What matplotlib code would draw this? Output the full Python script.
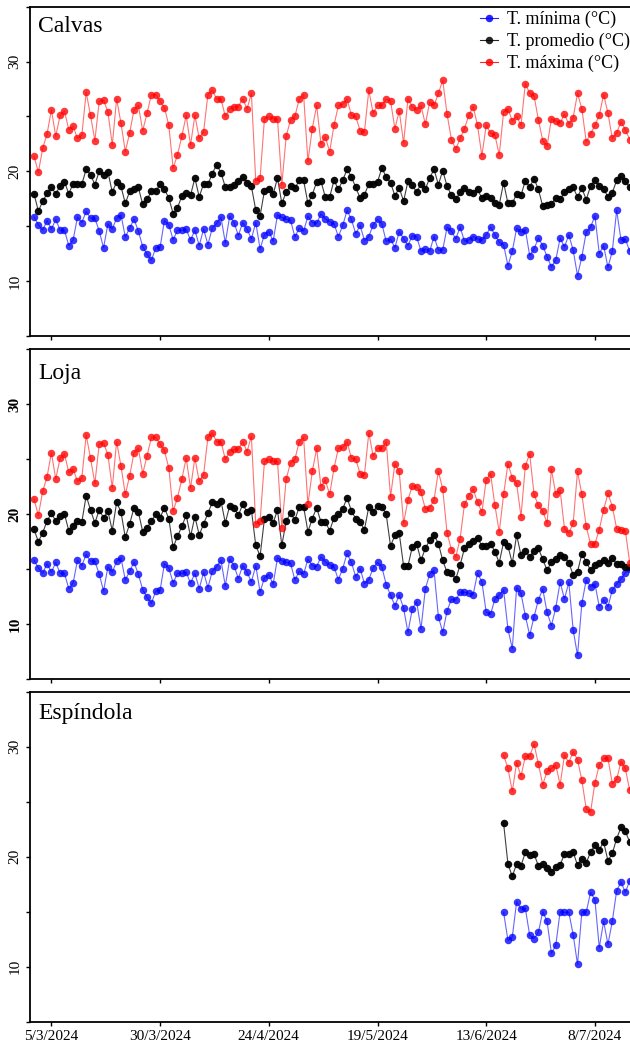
import matplotlib
matplotlib.use("Agg")
import matplotlib.pyplot as plt
from matplotlib.ticker import FixedLocator
import matplotlib.dates as mdates
from matplotlib.lines import Line2D
import datetime as dt

plt.rcParams['font.family'] = ['Liberation Serif', 'DejaVu Serif']

# ---------------- data ----------------
start_date = "1/3/2024"
esp_start_date = "17/6/2024"
tick_labels = ["5/3/2024", "30/3/2024", "24/4/2024", "19/5/2024", "13/6/2024", "8/7/2024"]
stations = ["Calvas", "Loja", "Espíndola"]
series_labels = ["T. mínima (°C)", "T. promedio (°C)", "T. máxima (°C)"]

calvas_max = [21.4, 19.9, 22.1, 23.4, 25.6, 23.2, 25.1, 25.5, 23.8, 24.1,
              23.0, 23.3, 27.2, 25.1, 22.8, 26.4, 26.5, 25.4, 22.4, 26.6,
              24.4, 21.8, 23.5, 25.6, 26.0, 23.7, 25.3, 27.0, 27.0, 26.4,
              25.8, 24.2, 20.3, 21.5, 23.2, 25.1, 22.4, 25.1, 23.0, 23.6,
              27.0, 27.4, 26.6, 26.6, 25.0, 25.7, 25.9, 25.9, 26.6, 25.7,
              27.1, 19.1, 19.4, 24.8, 25.0, 24.8, 24.8, 18.8, 23.2, 24.7,
              25.0, 26.6, 27.0, 20.9, 23.9, 26.0, 22.5, 23.1, 21.8, 24.2,
              26.0, 26.1, 26.6, 25.1, 25.0, 23.7, 23.6, 27.4, 25.3, 26.0,
              26.0, 26.6, 26.4, 23.9, 25.5, 22.6, 26.6, 25.9, 25.6, 26.0,
              24.3, 26.3, 26.0, 27.1, 28.3, 25.2, 22.9, 22.0, 23.0, 23.9,
              25.1, 25.9, 24.2, 21.4, 24.2, 23.5, 23.3, 21.5, 25.4, 25.7,
              24.6, 25.0, 24.2, 28.0, 27.1, 26.9, 24.7, 22.8, 22.3, 24.8,
              24.6, 24.4, 25.2, 24.3, 24.9, 27.1, 25.7, 22.7, 23.4, 24.2,
              25.1, 27.0, 25.3, 23.0, 23.5, 24.5, 23.8, 22.9]
calvas_mean = [17.96, 16.38, 17.26, 17.99, 18.54, 17.96, 18.66, 19.06, 17.96, 18.88,
               18.88, 18.82, 20.19, 19.70, 18.79, 20.00, 19.70, 19.94, 18.11, 19.03,
               18.63, 17.08, 18.17, 18.42, 18.54, 16.99, 17.47, 18.17, 18.17, 18.82,
               18.39, 17.56, 16.16, 16.68, 17.75, 17.99, 17.81, 19.39, 17.66, 18.88,
               18.82, 19.79, 20.61, 19.88, 18.57, 18.57, 18.72, 19.09, 19.49, 18.94,
               18.63, 16.47, 15.95, 18.24, 18.42, 17.90, 19.39, 17.08, 18.11, 18.69,
               18.45, 19.18, 19.18, 17.08, 17.87, 19.03, 19.09, 17.66, 17.66, 19.18,
               18.36, 19.18, 20.19, 19.49, 18.54, 17.56, 17.87, 18.85, 18.85, 19.03,
               20.31, 19.49, 18.97, 17.78, 18.48, 17.29, 19.09, 18.72, 18.11, 18.85,
               18.39, 19.39, 20.19, 18.79, 20.06, 18.66, 17.81, 17.44, 18.08, 18.48,
               18.11, 17.99, 18.36, 17.56, 17.75, 17.56, 17.14, 16.96, 18.97, 17.08,
               17.08, 17.96, 17.81, 19.15, 18.57, 19.33, 18.36, 16.83, 16.96, 17.02,
               17.56, 17.44, 18.11, 18.42, 18.54, 17.66, 18.48, 17.41, 18.66, 19.18,
               18.66, 18.42, 17.66, 18.05, 19.18, 19.55, 19.09, 18.54]
calvas_min = [15.83, 15.13, 14.64, 15.52, 14.73, 15.62, 14.64, 14.64, 13.24, 13.76,
              15.83, 15.34, 16.35, 15.74, 15.74, 14.55, 13.03, 15.22, 14.73, 15.74,
              16.04, 14.03, 14.82, 15.65, 14.55, 13.15, 12.45, 11.90, 13.03, 13.09,
              15.52, 15.13, 13.76, 14.64, 14.64, 14.73, 13.73, 14.64, 13.24, 14.73,
              13.33, 14.82, 15.25, 15.83, 13.48, 15.92, 15.34, 14.15, 15.34, 14.73,
              13.85, 15.34, 12.93, 14.24, 14.52, 13.64, 16.04, 15.80, 15.62, 15.55,
              14.03, 14.82, 14.55, 15.92, 15.34, 15.25, 16.13, 15.67, 15.43, 15.22,
              14.06, 15.07, 16.44, 15.62, 14.31, 15.07, 13.70, 14.06, 15.13, 15.62,
              15.22, 13.61, 13.85, 13.03, 14.52, 13.85, 13.24, 14.15, 14.06, 12.72,
              12.93, 12.72, 14.06, 12.84, 12.84, 14.91, 14.55, 13.85, 14.91, 13.64,
              13.76, 14.06, 13.85, 13.73, 14.21, 14.91, 14.21, 13.54, 13.30, 11.41,
              12.72, 14.82, 14.46, 14.70, 12.32, 12.93, 13.91, 13.24, 12.23, 11.29,
              11.93, 13.91, 13.12, 14.21, 12.81, 10.50, 12.23, 14.46, 14.91, 15.95,
              12.51, 13.24, 11.26, 12.72, 16.44, 13.76, 13.85, 12.72]

loja_max = [21.4, 19.9, 22.1, 23.4, 25.6, 23.2, 25.1, 25.5, 23.8, 24.1,
            23.0, 23.3, 27.2, 25.1, 22.8, 26.4, 26.5, 25.4, 22.4, 26.6,
            24.4, 21.8, 23.5, 25.6, 26.0, 23.7, 25.3, 27.0, 27.0, 26.4,
            25.8, 24.2, 20.3, 21.5, 23.2, 25.1, 22.4, 25.1, 23.0, 23.6,
            27.0, 27.4, 26.6, 26.6, 25.0, 25.7, 25.9, 25.9, 26.6, 25.7,
            27.1, 19.1, 19.4, 24.8, 25.0, 24.8, 24.8, 18.8, 23.2, 24.7,
            25.0, 26.6, 27.0, 20.9, 23.9, 26.0, 22.5, 23.1, 21.8, 24.2,
            26.0, 26.1, 26.6, 25.1, 25.0, 23.7, 23.6, 27.4, 25.3, 26.0,
            26.0, 26.6, 21.6, 24.6, 23.9, 19.2, 21.3, 22.6, 22.5, 22.0,
            20.5, 20.6, 21.3, 23.9, 22.3, 18.3, 16.8, 16.1, 17.8, 20.9,
            21.7, 22.3, 21.1, 20.2, 23.1, 23.7, 20.8, 18.4, 21.8, 24.6,
            23.3, 22.8, 19.8, 24.4, 25.5, 21.8, 20.8, 20.3, 19.2, 24.1,
            21.8, 22.2, 18.7, 18.3, 19.2, 23.9, 21.8, 18.9, 17.3, 17.3,
            18.6, 20.4, 21.9, 20.7, 18.7, 18.6, 18.5, 15.6]
loja_mean = [18.63, 17.51, 18.33, 19.39, 20.09, 19.39, 19.85, 20.03, 18.51, 18.94,
             19.39, 19.30, 21.70, 20.39, 19.21, 20.39, 19.69, 20.30, 18.51, 21.09,
             20.21, 17.91, 19.12, 20.60, 20.21, 18.42, 18.78, 19.39, 19.99, 19.69,
             20.60, 19.60, 16.99, 17.99, 18.91, 19.91, 17.99, 19.79, 18.12, 19.12,
             20.09, 21.09, 20.91, 21.21, 19.21, 20.78, 20.60, 19.91, 20.91, 20.21,
             20.39, 17.18, 16.21, 19.60, 19.79, 19.21, 20.39, 17.18, 19.39, 20.09,
             19.48, 20.69, 20.69, 18.42, 19.60, 20.60, 19.30, 19.33, 18.51, 19.69,
             20.00, 20.48, 21.51, 20.30, 19.60, 19.30, 18.60, 20.69, 20.24, 20.78,
             20.69, 20.00, 17.12, 18.09, 18.27, 15.30, 15.30, 17.03, 17.33, 15.81,
             16.91, 17.63, 18.12, 17.33, 15.81, 14.72, 14.63, 14.12, 15.39, 16.91,
             17.33, 17.57, 17.88, 17.12, 17.12, 17.33, 16.60, 15.60, 17.48, 17.12,
             15.54, 18.12, 16.30, 16.70, 16.12, 16.70, 16.91, 15.91, 14.91, 15.69,
             15.91, 16.30, 16.12, 15.60, 14.48, 14.78, 16.42, 15.69, 14.91, 15.39,
             15.60, 15.81, 15.60, 16.00, 15.48, 15.48, 15.18, 15.20]
loja_min = [15.83, 15.13, 14.64, 15.52, 14.73, 15.62, 14.64, 14.64, 13.24, 13.76,
            15.83, 15.34, 16.35, 15.74, 15.74, 14.55, 13.03, 15.22, 14.73, 15.74,
            16.04, 14.03, 14.82, 15.65, 14.55, 13.15, 12.45, 11.90, 13.03, 13.09,
            15.52, 15.13, 13.76, 14.64, 14.64, 14.73, 13.73, 14.64, 13.24, 14.73,
            13.33, 14.82, 15.25, 15.83, 13.48, 15.92, 15.34, 14.15, 15.34, 14.73,
            13.85, 15.34, 12.93, 14.24, 14.52, 13.64, 16.04, 15.80, 15.62, 15.55,
            14.03, 14.82, 14.55, 15.92, 15.34, 15.25, 16.13, 15.67, 15.43, 15.22,
            14.06, 15.07, 16.44, 15.62, 14.31, 15.07, 13.70, 14.06, 15.13, 15.62,
            15.22, 13.61, 12.66, 11.69, 12.66, 11.45, 9.27, 11.39, 12.06, 9.57,
            13.21, 14.57, 14.91, 10.69, 9.27, 11.21, 12.30, 12.21, 12.91, 12.91,
            12.82, 12.70, 14.63, 13.88, 11.09, 10.91, 12.30, 12.66, 13.12, 9.57,
            7.78, 13.33, 12.82, 10.78, 9.00, 10.69, 12.21, 13.21, 11.09, 9.88,
            11.51, 13.82, 12.30, 13.82, 9.48, 7.18, 11.91, 14.03, 13.42, 13.70,
            11.60, 12.21, 11.60, 13.12, 13.67, 14.12, 14.69, 15.00]

esp_max = [29.24, 28.03, 25.94, 28.55, 27.33, 29.12, 29.12, 30.24, 28.45, 26.55,
           27.76, 28.03, 28.33, 26.55, 29.24, 28.55, 29.55, 28.82, 26.94, 24.36,
           24.06, 26.73, 28.33, 28.94, 28.94, 26.64, 27.03, 28.64, 28.03, 26.03]
esp_mean = [23.03, 19.33, 18.21, 19.36, 19.18, 20.39, 20.18, 20.24, 19.18, 19.33,
            18.97, 18.61, 19.06, 19.27, 20.24, 20.27, 20.43, 19.21, 19.82, 19.43,
            20.43, 21.03, 20.64, 21.33, 19.64, 20.30, 21.64, 22.67, 22.30, 21.33]
esp_min = [14.94, 12.40, 12.70, 15.91, 15.24, 15.30, 12.85, 12.55, 13.12, 15.00,
           14.12, 11.21, 11.94, 15.00, 14.94, 14.94, 12.91, 10.21, 15.00, 14.94,
           16.76, 16.09, 11.73, 14.12, 12.03, 14.12, 16.91, 17.70, 16.76, 17.82]

# ---------------- helpers ----------------
def parse(s):
    return dt.datetime.strptime(s, "%d/%m/%Y")

def dates_from(start, n):
    d0 = parse(start)
    return [d0 + dt.timedelta(days=i) for i in range(n)]

W, H = 630, 1045
fig = plt.figure(figsize=(W / 100, H / 100), dpi=100)

def rect(top, bottom):
    return [30 / W, 1 - bottom / H, 601 / W, (bottom - top) / H]

panel_rects = [rect(6.7, 336.0), rect(349.3, 679.3), rect(691.7, 1021.7)]
title_y = [27, 374, 713]
panel_data = [
    (start_date, calvas_min, calvas_mean, calvas_max),
    (start_date, loja_min, loja_mean, loja_max),
    (esp_start_date, esp_min, esp_mean, esp_max),
]
colors = ["#0000ff", "#000000", "#ff0000"]
marker_alpha = [0.78, 0.95, 0.78]
line_alpha = [0.6, 0.75, 0.55]

d0 = parse(start_date)
xlim = (mdates.date2num(d0) - 0.92, mdates.date2num(d0) + 137.3)
tick_pos = [mdates.date2num(parse(s)) for s in tick_labels]

axes = []
for i, (r, (sd, tmin, tmean, tmax)) in enumerate(zip(panel_rects, panel_data)):
    ax = fig.add_axes(r)
    axes.append(ax)
    for vals, c, ma, la in zip([tmin, tmean, tmax], colors, marker_alpha, line_alpha):
        x = mdates.date2num(dates_from(sd, len(vals)))
        ax.plot(x, vals, '-', color=c, lw=0.8, alpha=la, zorder=2)
        ax.plot(x, vals, 'o', color=c, ms=5.4, mew=0, alpha=ma, zorder=3)
    ax.set_xlim(*xlim)
    ax.set_ylim(5, 35)
    ax.yaxis.set_major_locator(FixedLocator([10, 20, 30]))
    ax.yaxis.set_minor_locator(FixedLocator([5, 15, 25, 35]))
    ax.xaxis.set_major_locator(FixedLocator(tick_pos))
    if i == 2:
        ax.set_xticklabels(tick_labels)
    else:
        ax.set_xticklabels([])
    ax.tick_params(axis='both', which='both', direction='out', length=3.2, width=1.0,
                   labelsize=11, colors='black')
    ax.tick_params(axis='y', pad=3)
    ax.tick_params(axis='x', pad=2.5)
    for lab in ax.get_yticklabels():
        lab.set_rotation(90)
        lab.set_va('center')
        lab.set_ha('right')
        if i == 1:
            lab.set_fontweight('bold')
    for side in ['left', 'bottom', 'top']:
        ax.spines[side].set_linewidth(1.3)
    ax.spines['right'].set_visible(False)
    fig.text(38 / W, 1 - title_y[i] / H, stations[i], fontsize=17,
             ha='left', va='center')

handles = [Line2D([], [], color=c, lw=0.8, marker='o', ms=5.4, mew=0, alpha=0.85)
           for c in colors]
axes[0].legend(handles, series_labels, loc='upper left',
               bbox_to_anchor=(480 / W, 1 - 11 / H), bbox_transform=fig.transFigure,
               frameon=False, fontsize=13, handlelength=1.0, handletextpad=0.5,
               borderpad=0, borderaxespad=0, labelspacing=0.25)

fig.savefig("out.png", dpi=100)
